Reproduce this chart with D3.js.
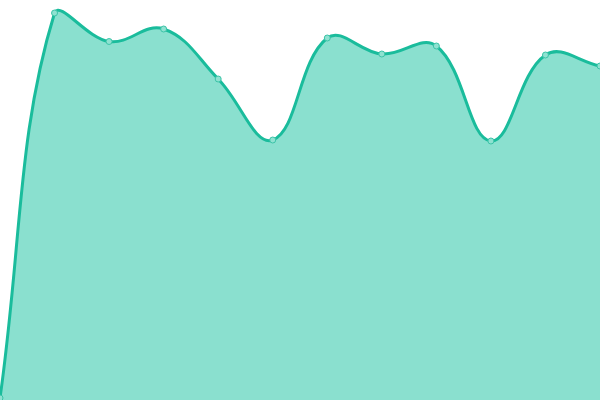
<!DOCTYPE html>
<html>
<head>
<meta charset="utf-8">
<script src="https://cdn.jsdelivr.net/npm/d3@7"></script>
<style>
html,body{margin:0;padding:0;background:#fff;overflow:hidden;}
svg{display:block;}
</style>
</head>
<body>
<svg id="chart" width="600" height="400"></svg>
<script>
const categories = [0,1,2,3,4,5,6,7,8,9,10,11];
const values = [2, 387, 358.5, 371, 321, 260, 362, 346, 354, 259, 345, 334];

const W = 600, H = 400;
const svg = d3.select("#chart");
const x = d3.scaleLinear().domain([0, 11]).range([0, W]);
const y = d3.scaleLinear().domain([0, 400]).range([H, 0]);

const data = categories.map((c, i) => ({c, v: values[i]}));

// Spline with distance-weighted tension and control points capped to the plot area
function splineCurve(tension, x0, y0, x1, y1) {
  return function(context) {
    let pts = [], line = NaN;
    function draw() {
      const n = pts.length;
      if (!n) return;
      const cps = pts.map((p, i) => {
        const prev = pts[Math.max(0, i - 1)], next = pts[Math.min(n - 1, i + 1)];
        const d01 = Math.hypot(p[0] - prev[0], p[1] - prev[1]);
        const d12 = Math.hypot(next[0] - p[0], next[1] - p[1]);
        let s01 = d01 / (d01 + d12), s12 = d12 / (d01 + d12);
        if (isNaN(s01)) s01 = 0; if (isNaN(s12)) s12 = 0;
        const fa = tension * s01, fb = tension * s12;
        const cl = v => [Math.max(x0, Math.min(x1, v[0])), Math.max(y0, Math.min(y1, v[1]))];
        return {
          prev: cl([p[0] - fa * (next[0] - prev[0]), p[1] - fa * (next[1] - prev[1])]),
          next: cl([p[0] + fb * (next[0] - prev[0]), p[1] + fb * (next[1] - prev[1])])
        };
      });
      if (line) context.lineTo(pts[0][0], pts[0][1]); else context.moveTo(pts[0][0], pts[0][1]);
      for (let i = 1; i < n; i++) {
        context.bezierCurveTo(cps[i-1].next[0], cps[i-1].next[1], cps[i].prev[0], cps[i].prev[1], pts[i][0], pts[i][1]);
      }
    }
    return {
      areaStart() { line = 0; },
      areaEnd() { line = NaN; },
      lineStart() { pts = []; },
      lineEnd() {
        draw();
        if (line === 1) context.closePath();
        line = 1 - line;
      },
      point(px, py) { pts.push([+px, +py]); }
    };
  };
}
const curve = splineCurve(0.4, 0, 0, W, H);

const area = d3.area()
  .x(d => x(d.c))
  .y0(H)
  .y1(d => y(d.v))
  .curve(curve);

const line = d3.line()
  .x(d => x(d.c))
  .y(d => y(d.v))
  .curve(curve);

svg.append("path").datum(data)
  .attr("d", area)
  .attr("fill", "#8ae0cf");

svg.append("path").datum(data)
  .attr("d", line)
  .attr("fill", "none")
  .attr("stroke", "#1abc9c")
  .attr("stroke-width", 3);

svg.selectAll("circle").data(data).enter().append("circle")
  .attr("cx", d => x(d.c))
  .attr("cy", d => y(d.v))
  .attr("r", 3)
  .attr("fill", "#8fe2d1")
  .attr("stroke", "#3cc4a8")
  .attr("stroke-width", 1);
</script>
</body>
</html>
